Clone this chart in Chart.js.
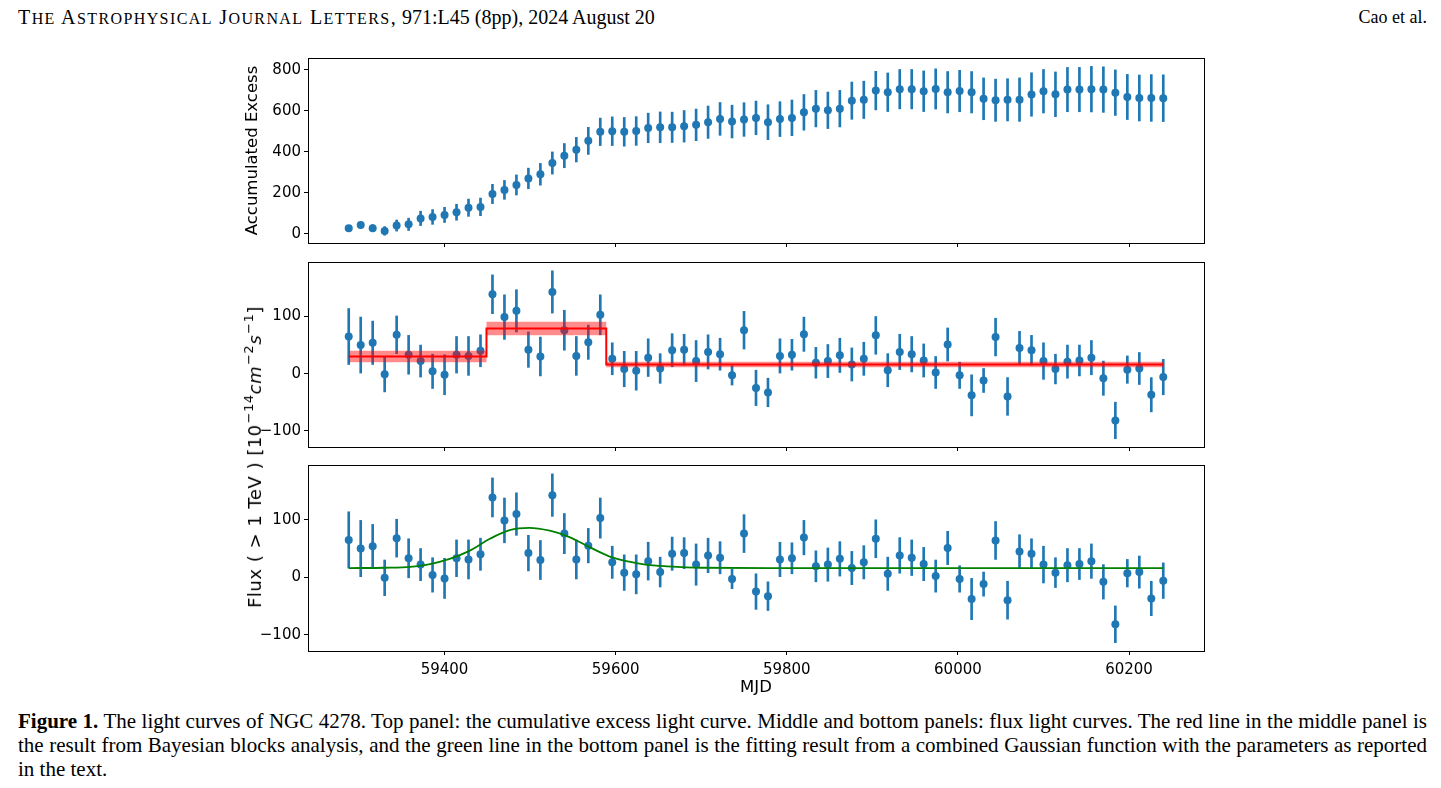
<!DOCTYPE html>
<html>
<head>
<meta charset="utf-8">
<script src="https://cdn.jsdelivr.net/npm/chart.js"></script>
<style>
  body { margin: 0; background: #fff; width: 1441px; height: 788px; position: relative; overflow: hidden; }
  .panel { position: absolute; left: 230px; width: 985px; }
  .hdr { position: absolute; top: 6px; font-family: "Liberation Serif", serif; font-size: 20px; color: #000; white-space: nowrap; }
  .hdr .sc { font-size: 16px; }
  .caps { letter-spacing: 1.4px; }
  .ylab { position: absolute; left: 253px; top: 457px; transform: translate(-50%, -50%) rotate(-90deg);
          font-family: "DejaVu Sans", sans-serif; font-size: 18px; letter-spacing: 0.5px; white-space: nowrap; color: #000; }
  .ylab sup { font-size: 13px; vertical-align: 8px; margin-left: 1px; }
  .cap { position: absolute; left: 18px; width: 1409px; top: 709px; font-family: "Liberation Serif", serif;
         font-size: 21px; line-height: 24px; color: #000; }
  .cap div { text-align: justify; text-align-last: justify; white-space: nowrap; }
  .cap div.last { text-align-last: left; }
</style>
</head>
<body>
<div class="hdr" style="left:18px;"><span class="caps">T<span class="sc">HE</span> A<span class="sc">STROPHYSICAL</span> J<span class="sc">OURNAL</span> L<span class="sc">ETTERS</span>,</span> 971:L45 (8pp), 2024 August 20</div>
<div class="hdr" style="right:14px; font-size:18px; top:7px;">Cao et al.</div>

<div class="panel" style="top:50px; height:200px;"><canvas id="excess-chart"></canvas></div>
<div class="panel" style="top:254px; height:200px;"><canvas id="blocks-chart"></canvas></div>
<div class="panel" style="top:457px; height:243px;"><canvas id="gauss-chart"></canvas></div>
<div class="ylab">Flux ( &gt; 1 TeV ) [10<sup>−14</sup><i>cm</i><sup>−2</sup><i>s</i><sup>−1</sup>]</div>

<div class="cap">
  <div><b>Figure 1.</b> The light curves of NGC 4278. Top panel: the cumulative excess light curve. Middle and bottom panels: flux light curves. The red line in the middle panel is</div>
  <div>the result from Bayesian blocks analysis, and the green line in the bottom panel is the fitting result from a combined Gaussian function with the parameters as reported</div>
  <div class="last">in the text.</div>
</div>

<script>
// light curve bins (MJD)
var mjd = [59288, 59302, 59316, 59330, 59344, 59358, 59372, 59386, 59400, 59414,
  59428, 59442, 59456, 59470, 59484, 59498, 59512, 59526, 59540, 59554,
  59568, 59582, 59596, 59610, 59624, 59638, 59652, 59666, 59680, 59694,
  59708, 59722, 59736, 59750, 59764, 59778, 59792, 59806, 59820, 59834,
  59848, 59862, 59876, 59890, 59904, 59918, 59932, 59946, 59960, 59974,
  59988, 60002, 60016, 60030, 60044, 60058, 60072, 60086, 60100, 60114,
  60128, 60142, 60156, 60170, 60184, 60198, 60212, 60226, 60240];

var excess = [28, 44, 28, 15, 41, 47, 76, 83, 93, 106,
  128, 132, 195, 215, 239, 271, 291, 346, 382, 411,
  454, 498, 501, 498, 502, 517, 520, 520, 525, 532,
  545, 561, 548, 558, 566, 545, 560, 566, 593, 611,
  603, 611, 650, 654, 699, 691, 706, 706, 696, 707,
  691, 697, 691, 659, 652, 654, 655, 680, 696, 681,
  704, 704, 706, 704, 689, 668, 663, 663, 662];
var excessErr = [12, 14, 17, 21, 27, 30, 35, 36, 37, 39,
  42, 43, 47, 46, 49, 50, 53, 54, 59, 60,
  66, 67, 70, 70, 70, 72, 75, 74, 77, 77,
  79, 80, 80, 82, 82, 85, 85, 87, 87, 89,
  89, 89, 91, 91, 94, 94, 96, 96, 99, 98,
  101, 101, 101, 102, 103, 103, 106, 106, 106, 109,
  108, 108, 111, 111, 111, 110, 112, 114, 114];

var flux = [65, 50, 54, -1, 68, 33, 22, 4, -2, 33,
  31, 40, 139, 99, 110, 42, 30, 143, 76, 31,
  55, 103, 26, 8, 5, 28, 9, 41, 42, 22,
  38, 34, -3, 76, -25, -33, 31, 33, 69, 19,
  22, 32, 16, 26, 67, 6, 38, 34, 23, 2,
  51, -3, -38, -12, 64, -40, 45, 41, 22, 8,
  21, 23, 28, -8, -82, 7, 9, -37, -6];
var fluxErr = [49, 49, 38, 31, 33, 34, 28, 30, 35, 32,
  34, 28, 34, 39, 37, 31, 34, 37, 35, 34,
  30, 35, 28, 31, 34, 33, 26, 29, 27, 36,
  30, 28, 17, 33, 31, 25, 30, 27, 30, 27,
  29, 30, 29, 29, 33, 29, 31, 31, 29, 28,
  29, 23, 36, 21, 33, 33, 29, 26, 32, 26,
  29, 27, 30, 30, 32, 24, 28, 30, 31];

// bayesian blocks (edges, level, 1-sigma band)
var blockEdges = [59288, 59449, 59589, 60240];
var blockFlux = [30, 79, 16];
var blockErr = [10, 12, 5];

// gaussian fit curve
var gaussMjd = [59288, 59330, 59360, 59383, 59406, 59429, 59453, 59476, 59499, 59523,
  59546, 59570, 59593, 59616, 59635, 59660, 59700, 59800, 60000, 60240];
var gaussFlux = [16, 16.5, 18, 23, 32, 46, 67, 82, 86, 81,
  70, 52, 36, 27, 22, 19, 16.5, 16, 16, 16];

var mjdTicks = [59400, 59600, 59800, 60000, 60200];
var excessTicks = [0, 200, 400, 600, 800];
var fluxTicks = [-100, 0, 100];

var blue = '#1f77b4';

Chart.defaults.font.family = 'DejaVu Sans';
Chart.defaults.font.size = 15;
Chart.defaults.color = '#000';

var framePlugin = {
  id: 'frame',
  afterDraw: function(chart) {
    var a = chart.chartArea, ctx = chart.ctx;
    ctx.save();
    ctx.strokeStyle = '#000';
    ctx.lineWidth = 1;
    ctx.strokeRect(Math.round(a.left) + 0.5, Math.round(a.top) + 0.5, Math.round(a.right - a.left), Math.round(a.bottom - a.top));
    ctx.restore();
  }
};

function minus(v) { return v < 0 ? '\u2212' + Math.abs(v) : '' + v; }

function errorBars(vals, errs) {
  return mjd.map(function(x, i) { return {x: x, y: [vals[i] - errs[i], vals[i] + errs[i]]}; });
}
function points(vals) {
  return mjd.map(function(x, i) { return {x: x, y: vals[i]}; });
}

function makeScales(yTicks, ymin, ymax, showX, yTitle) {
  return {
    x: {
      type: 'linear', min: 59240.4, max: 60287.6, offset: false,
      afterBuildTicks: function(s) { s.ticks = mjdTicks.map(function(v) { return {value: v}; }); },
      afterFit: function(s) { s.height = showX ? 49 : 7; s.paddingLeft = 0; s.paddingRight = 0; },
      grid: { display: true, drawOnChartArea: false, drawTicks: true, tickLength: 4, color: '#000', offset: false },
      border: { display: false },
      ticks: { display: showX, padding: 6, maxRotation: 0, callback: function(v) { return '' + v; } },
      title: { display: showX, text: 'MJD', font: { size: 16.5 }, padding: { top: 0, bottom: 2 } }
    },
    y: {
      min: ymin, max: ymax,
      afterBuildTicks: function(s) { s.ticks = yTicks.map(function(v) { return {value: v}; }); },
      afterFit: function(s) { s.width = 78; s.paddingTop = 0; s.paddingBottom = 0; },
      grid: { display: true, drawOnChartArea: false, drawTicks: true, tickLength: 4, color: '#000' },
      border: { display: false },
      ticks: { padding: 3, callback: function(v) { return minus(v); } },
      title: { display: !!yTitle, text: yTitle || '', font: { size: 16.5 }, padding: { top: 13, bottom: 0 } }
    }
  };
}

var baseOptions = function(scales) {
  return {
    responsive: true,
    maintainAspectRatio: false,
    animation: false,
    layout: { padding: { left: 0, right: 11, top: 8, bottom: 0 }, autoPadding: false },
    plugins: { legend: { display: false }, tooltip: { enabled: false } },
    scales: scales
  };
};

function errSet(vals, errs) {
  return { type: 'bar', data: errorBars(vals, errs), backgroundColor: blue, barThickness: 2, grouped: false, order: 3 };
}
function dotSet(vals) {
  return { type: 'scatter', data: points(vals), backgroundColor: blue, borderWidth: 0, pointRadius: 4, showLine: false, order: 2 };
}

// top panel: accumulated excess
new Chart(document.getElementById('excess-chart'), {
  type: 'scatter',
  data: { datasets: [errSet(excess, excessErr), dotSet(excess)] },
  options: baseOptions(makeScales(excessTicks, -44, 858, false, 'Accumulated Excess')),
  plugins: [framePlugin]
});

// middle panel: flux with bayesian blocks
function blockLine(sign) {
  var pts = blockEdges.slice(0, -1).map(function(x, i) { return {x: x, y: blockFlux[i] + sign * blockErr[i]}; });
  var k = blockFlux.length - 1;
  pts.push({x: blockEdges[blockEdges.length - 1], y: blockFlux[k] + sign * blockErr[k]});
  return pts;
}
new Chart(document.getElementById('blocks-chart'), {
  type: 'scatter',
  data: { datasets: [
    errSet(flux, fluxErr),
    dotSet(flux),
    { type: 'line', data: blockLine(1), stepped: true, borderWidth: 0, pointRadius: 0, fill: '+1', backgroundColor: 'rgba(255,0,0,0.45)', order: 1 },
    { type: 'line', data: blockLine(-1), stepped: true, borderWidth: 0, pointRadius: 0, fill: false, order: 1 },
    { type: 'line', data: blockLine(0), stepped: true, borderColor: '#ff0000', borderWidth: 2, pointRadius: 0, fill: false, order: 0 }
  ] },
  options: baseOptions(makeScales(fluxTicks, -128.5, 195.5, false, null)),
  plugins: [framePlugin]
});

// bottom panel: flux with gaussian fit
new Chart(document.getElementById('gauss-chart'), {
  type: 'scatter',
  data: { datasets: [
    errSet(flux, fluxErr),
    dotSet(flux),
    { type: 'line', data: gaussMjd.map(function(x, i) { return {x: x, y: gaussFlux[i]}; }), borderColor: '#008000', borderWidth: 1.8,
      pointRadius: 0, fill: false, cubicInterpolationMode: 'monotone', order: 0 }
  ] },
  options: baseOptions(makeScales(fluxTicks, -128.5, 195.5, true, null)),
  plugins: [framePlugin]
});
</script>
</body>
</html>
